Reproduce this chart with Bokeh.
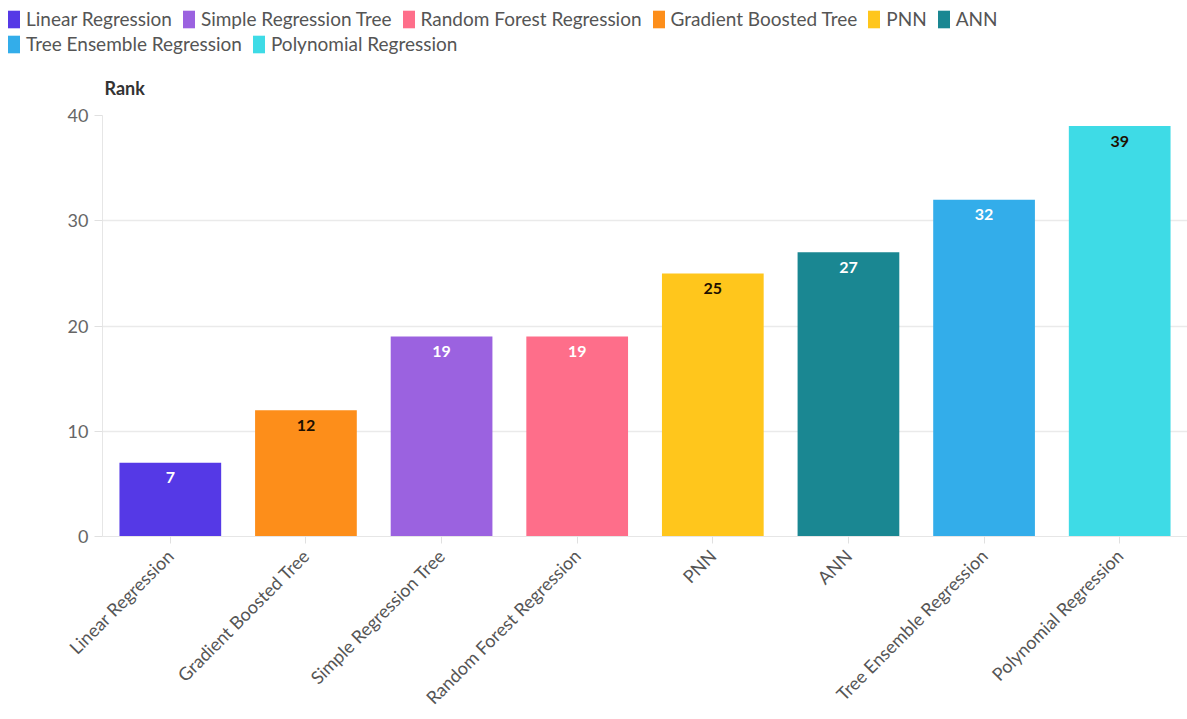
from bokeh.plotting import figure
from bokeh.models import (ColumnDataSource, FactorRange, Legend, LegendItem, Title,
                          FixedTicker, Range1d)
from bokeh.layouts import column, row
from bokeh.embed import file_html
from bokeh.resources import INLINE
from bokeh.core.properties import value

# ---- data ----
categories = ["Linear Regression", "Gradient Boosted Tree", "Simple Regression Tree",
              "Random Forest Regression", "PNN", "ANN", "Tree Ensemble Regression",
              "Polynomial Regression"]
ranks = [7, 12, 19, 19, 25, 27, 32, 39]
bar_colors = ["#5539E6", "#FD8E1A", "#9B62E0", "#FE6E8A", "#FFC61C", "#1A8792",
              "#33ADEA", "#3EDBE6"]
label_colors = ["#FFFFFF", "#1E1000", "#FFFFFF", "#FFFFFF", "#1E1000", "#FFFFFF",
                "#FFFFFF", "#1E1000"]
legend_row1 = ["Linear Regression", "Simple Regression Tree", "Random Forest Regression",
               "Gradient Boosted Tree", "PNN", "ANN"]
legend_row2 = ["Tree Ensemble Regression", "Polynomial Regression"]
y_ticks = [0, 10, 20, 30, 40]
y_label = "Rank"

FONT = "Lato"
LEG_H = 55

# ---------------- legend strip ----------------
lf = figure(width=1187, height=LEG_H, output_backend="svg", toolbar_location=None,
            x_range=Range1d(0, 1), y_range=Range1d(1000, 1001),
            x_axis_location=None, y_axis_location=None,
            min_border_left=0, min_border_right=0, min_border_top=0, min_border_bottom=0)
lf.outline_line_color = None
lf.grid.grid_line_color = None

leg_renderers = {}
for cat, val, col in zip(categories, ranks, bar_colors):
    src = ColumnDataSource(dict(x=[0.5], top=[val]))
    leg_renderers[cat] = lf.vbar(x="x", top="top", width=0.1, source=src,
                                 fill_color=col, line_color=None, border_radius=3)


def make_legend(names, loc):
    items = [LegendItem(label=n, renderers=[leg_renderers[n]]) for n in names]
    return Legend(items=items, orientation="horizontal", location=loc,
                  label_text_font=FONT, label_text_font_size="19px",
                  label_text_color="#555555", glyph_width=15, glyph_height=22,
                  label_height=20, label_standoff=5, spacing=9, padding=2, margin=0,
                  border_line_color=None, background_fill_alpha=0)


lf.add_layout(make_legend(legend_row1, (6, 25)), "center")
lf.add_layout(make_legend(legend_row2, (6, 0)), "center")

# ---------------- main chart ----------------
p = figure(x_range=FactorRange(*categories, range_padding=0),
           y_range=Range1d(0, 40),
           width=1187, height=719 - LEG_H, output_backend="svg", toolbar_location=None,
           min_border_left=102, min_border_right=0, min_border_top=115 - LEG_H,
           min_border_bottom=182)
p.outline_line_color = None
p.background_fill_color = "white"

for cat, val, col in zip(categories, ranks, bar_colors):
    src = ColumnDataSource(dict(x=[cat], top=[val]))
    p.vbar(x="x", top="top", width=0.75, source=src, fill_color=col, line_color=None)

lbl_src = ColumnDataSource(dict(x=categories, y=ranks, t=[str(v) for v in ranks],
                                c=label_colors))
p.text(x="x", y="y", text="t", source=lbl_src, text_color="c", text_align="center",
       text_baseline="middle", y_offset=15, text_font=value(FONT),
       text_font_size="16px", text_font_style="bold")

p.yaxis.ticker = FixedTicker(ticks=y_ticks)
p.yaxis.axis_line_color = "#E6E6E6"
p.yaxis.major_tick_line_color = "#E0E0E0"
p.yaxis.major_tick_out = 8
p.yaxis.major_tick_in = 0
p.yaxis.minor_tick_line_color = None
p.yaxis.major_label_text_font = FONT
p.yaxis.major_label_text_font_size = "18px"
p.yaxis.major_label_text_color = "#666666"
p.yaxis.major_label_standoff = 6

p.xaxis.axis_line_color = "#E6E6E6"
p.xaxis.major_tick_line_color = "#E0E0E0"
p.xaxis.major_tick_out = 7
p.xaxis.major_tick_in = 0
p.xaxis.major_label_orientation = 0.785398
p.xaxis.major_label_text_font = FONT
p.xaxis.major_label_text_font_size = "18px"
p.xaxis.major_label_text_color = "#555555"
p.xaxis.major_label_standoff = 9

p.xgrid.grid_line_color = None
p.ygrid.grid_line_color = "#EAEAEA"
p.ygrid.grid_line_width = 1.5

t = Title(text=y_label, align="left", text_font=FONT, text_font_size="18px",
          text_font_style="bold", text_color="#333333", offset=2, standoff=33)
p.add_layout(t, "above")

layout = column(row(lf, spacing=0), p, spacing=0)
open("out.html", "w").write(file_html(layout, INLINE))
